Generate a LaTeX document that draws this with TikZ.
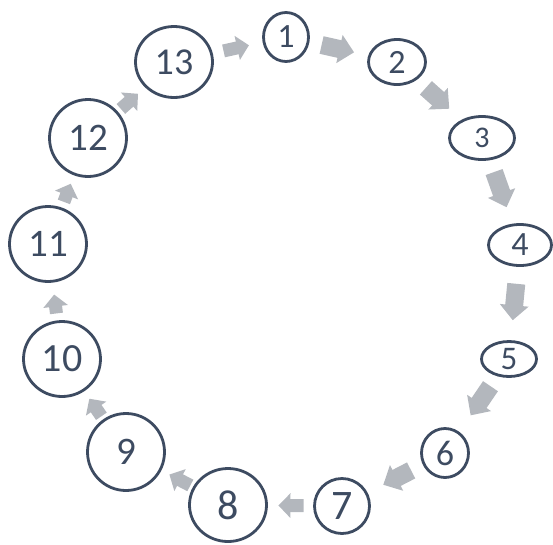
\documentclass[tikz,border=0pt]{standalone}
\usepackage{fontspec}
\setmainfont{Carlito}
\usetikzlibrary{arrows.meta,shapes.geometric}
\definecolor{ring}{HTML}{3D4B61}
\definecolor{flowgray}{HTML}{B3B7BD}
\newcommand{\numsize}[1]{\fontsize{#1}{#1}\selectfont}

\begin{document}
\begin{tikzpicture}[x=1pt, y=-1pt,
    stage/.style={ellipse, draw=ring, line width=2.8pt, inner sep=0pt, text=ring},
    sz/.style n args={3}{minimum width=#1pt, minimum height=#2pt, font=\numsize{#3}},
    flow/.style={draw=flowgray, line width=13pt, -{Triangle[width=24pt, length=12pt]}},
    bigflow/.style={draw=flowgray, line width=18pt, -{Triangle[width=28pt, length=15pt]}}
]
\useasboundingbox (0,0) rectangle (553,544);

% the ring of stages
\node[stage, sz={45}{49}{34}] (n1) at (286,37) {1};
\node[stage, sz={57}{45}{34}] (n2) at (397,62) {2};
\node[stage, sz={65}{43}{30}] (n3) at (482,138) {3};
\node[stage, sz={63}{41}{34}] (n4) at (520,245) {4};
\node[stage, sz={55}{35}{33}] (n5) at (509,359) {5};
\node[stage, sz={47}{49}{36}] (n6) at (445,453) {6};
\node[stage, sz={55}{55}{42}] (n7) at (342,506) {7};
\node[stage, sz={77}{73}{42}] (n8) at (228,505) {8};
\node[stage, sz={77}{77}{39}] (n9) at (126,452) {9};
\node[stage, sz={77}{75}{40}] (n10) at (62,359) {10};
\node[stage, sz={77}{75}{39}] (n11) at (48,244) {11};
\node[stage, sz={77}{77}{39}] (n12) at (88,138) {12};
\node[stage, sz={77}{71}{38}] (n13) at (174,62) {13};

% block arrows between stages
\draw[flow, shorten <=11pt, shorten >=14pt] (n13) -- (n1);
\draw[bigflow, shorten <=12.5pt, shorten >=14.5pt] (n1) -- (n2);
\draw[bigflow, shorten <=12pt, shorten >=16.5pt] (n2) -- (n3);
\draw[bigflow, shorten <=12.5pt, shorten >=17.5pt] (n3) -- (n4);
\draw[bigflow, shorten <=17pt, shorten >=20pt] (n4) -- (n5);
\draw[bigflow, shorten <=12pt, shorten >=20pt] (n5) -- (n6);
\draw[bigflow, shorten <=13pt, shorten >=17.5pt] (n6) -- (n7);
\draw[flow, shorten <=9.5pt, shorten >=10.5pt] (n7) -- (n8);
\draw[flow, shorten <=3pt, shorten >=9pt] (n8) -- (n9);
\draw[flow, shorten <=3.5pt, shorten >=9pt] (n9) -- (n10);
\draw[flow, shorten <=7pt, shorten >=12pt] (n10) -- (n11);
\draw[flow, shorten <=6pt, shorten >=9pt] (n11) -- (n12);
\draw[flow, shorten <=4pt, shorten >=9.5pt] (n12) -- (n13);
\end{tikzpicture}
\end{document}
